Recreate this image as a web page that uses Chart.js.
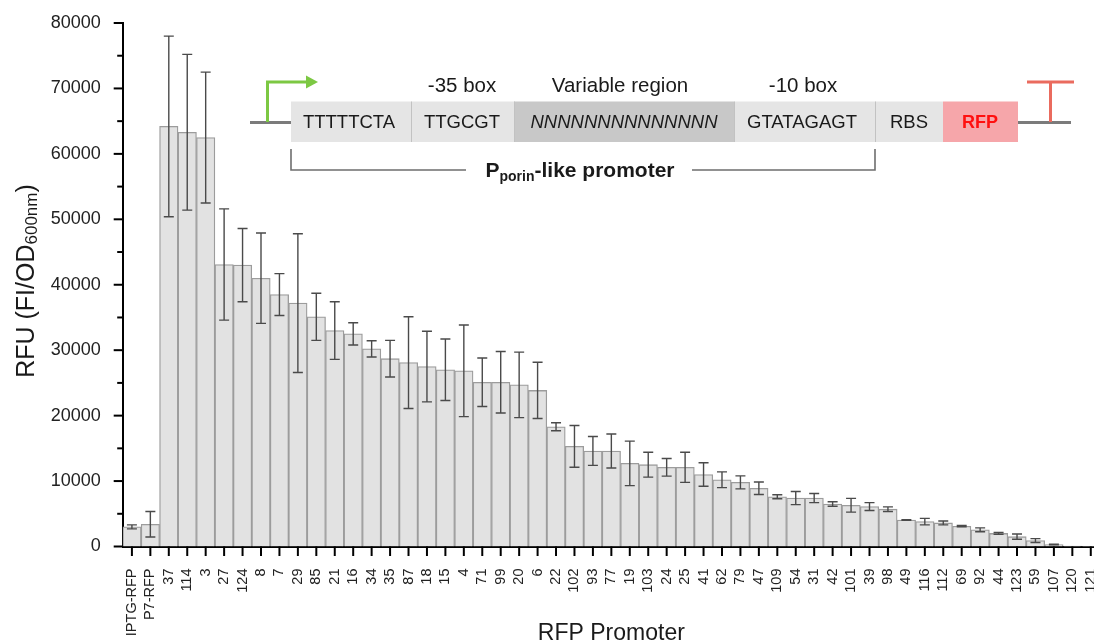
<!DOCTYPE html>
<html><head><meta charset="utf-8">
<script src="https://cdn.jsdelivr.net/npm/chart.js@4"></script>
<style>html,body{margin:0;padding:0;background:#fff;overflow:hidden;width:1094px;height:643px}canvas{display:block}</style>
</head><body>
<canvas id="c" width="1100" height="643"></canvas>
<script>
// ---- data ----
const categories = ['IPTG-RFP','P7-RFP','37','114','3','27','124','8','7','29','85','21','16','34','35','87','18','15','4','71','99','20','6','22','102','93','77','19','103','24','25','41','62','79','47','109','54','31','42','101','39','98','49','116','112','69','92','44','123','59','107','120','121'];
const rfuValues = [3000,3400,64200,63300,62500,43100,43000,41000,38500,37200,35100,33000,32500,30200,28700,28100,27500,27000,26850,25100,25100,24700,23850,18300,15300,14600,14600,12700,12500,12100,12100,11000,10200,9800,8900,7600,7400,7400,6500,6300,6100,5700,4050,3800,3600,3100,2550,2000,1500,900,300,80,20];
const rfuErrors = [300,1950,13800,11900,10000,8500,5600,6900,3200,10600,3600,4400,1700,1250,2800,7000,5400,4700,7000,3700,4700,5000,4300,600,3200,2200,2600,3400,1900,1350,2300,1800,1200,1000,950,300,1000,700,350,1050,600,350,50,500,300,100,300,150,400,300,50,0,0];
const yMin = 0, yMax = 80000, yMajorStep = 10000, yMinorStep = 5000;
const xTitle = 'RFP Promoter';
const yTitleMain = 'RFU (FI/OD', yTitleSub = '600nm', yTitleEnd = ')';

const FONT = '"Liberation Sans", Arial, sans-serif';

function line(ctx,x1,y1,x2,y2){ctx.beginPath();ctx.moveTo(x1,y1);ctx.lineTo(x2,y2);ctx.stroke();}

function drawInset(ctx){
  ctx.save();
  // backbone
  ctx.strokeStyle='#7b7b7b'; ctx.lineWidth=3;
  line(ctx,250,122.5,292,122.5); line(ctx,1017,122.5,1071,122.5);
  // boxes
  const top=101.5, h=40.5;
  const parts=[[291,411,'#e5e5e5'],[411,514,'#e5e5e5'],[514,734,'#c8c8c8'],[734,875,'#e5e5e5'],[875,943,'#e5e5e5'],[943,1018,'#f6a6aa']];
  parts.forEach(p=>{ctx.fillStyle=p[2];ctx.fillRect(p[0],top,p[1]-p[0],h);});
  ctx.strokeStyle='#c2c2c2'; ctx.lineWidth=1;
  [411,514,734,875].forEach(x=>line(ctx,x+0.5,top,x+0.5,top+h));
  // box text
  ctx.textBaseline='middle'; ctx.textAlign='center'; ctx.fillStyle='#1a1a1a';
  ctx.font='18.5px '+FONT;
  ctx.fillText('TTTTTCTA',349,123);
  ctx.fillText('TTGCGT',462,123);
  ctx.fillText('GTATAGAGT',802,123);
  ctx.fillText('RBS',909,123);
  ctx.font='italic 18.5px '+FONT;
  ctx.fillText('NNNNNNNNNNNNNN',624,123);
  ctx.font='bold 18px '+FONT; ctx.fillStyle='#ff1010';
  ctx.fillText('RFP',980,123);
  // labels above
  ctx.fillStyle='#1a1a1a'; ctx.font='20.5px '+FONT;
  ctx.fillText('-35 box',462,86);
  ctx.fillText('Variable region',620,86);
  ctx.fillText('-10 box',803,86);
  // promoter arrow
  ctx.strokeStyle='#7cc843'; ctx.lineWidth=3;
  ctx.beginPath(); ctx.moveTo(267.5,122); ctx.lineTo(267.5,82); ctx.lineTo(308,82); ctx.stroke();
  ctx.fillStyle='#7cc843';
  ctx.beginPath(); ctx.moveTo(306,75.5); ctx.lineTo(318,82); ctx.lineTo(306,88.5); ctx.closePath(); ctx.fill();
  // terminator
  ctx.strokeStyle='#ea6b5e'; ctx.lineWidth=3;
  line(ctx,1050.5,122,1050.5,82); line(ctx,1027,82,1074,82);
  // bracket
  ctx.strokeStyle='#6e6e6e'; ctx.lineWidth=1.6;
  ctx.beginPath(); ctx.moveTo(291,149); ctx.lineTo(291,170); ctx.lineTo(466,170); ctx.stroke();
  ctx.beginPath(); ctx.moveTo(692,170); ctx.lineTo(875,170); ctx.lineTo(875,149); ctx.stroke();
  // bracket text with subscript
  ctx.textAlign='left'; ctx.textBaseline='alphabetic'; ctx.fillStyle='#1a1a1a';
  const t1='P', t2='porin', t3='-like promoter';
  ctx.font='bold 21px '+FONT; const w1=ctx.measureText(t1).width, w3=ctx.measureText(t3).width;
  ctx.font='bold 14px '+FONT; const w2=ctx.measureText(t2).width;
  let x=580-(w1+w2+w3)/2, yb=177;
  ctx.font='bold 21px '+FONT; ctx.fillText(t1,x,yb); x+=w1;
  ctx.font='bold 14px '+FONT; ctx.fillText(t2,x,yb+4); x+=w2;
  ctx.font='bold 21px '+FONT; ctx.fillText(t3,x,yb);
  ctx.restore();
}

const overlay = {
  id:'overlay',
  afterDatasetsDraw(chart){
    const ctx=chart.ctx, xs=chart.scales.x, ys=chart.scales.y, meta=chart.getDatasetMeta(0);
    const area=chart.chartArea;
    ctx.save();
    // error bars
    ctx.strokeStyle='#4a4a4a'; ctx.lineWidth=1.4;
    meta.data.forEach((bar,i)=>{
      const e=rfuErrors[i]; if(!e) return;
      const v=rfuValues[i];
      const yt=ys.getPixelForValue(v+e), yb=ys.getPixelForValue(Math.max(v-e,0));
      const x=bar.x;
      ctx.beginPath();
      ctx.moveTo(x,yt); ctx.lineTo(x,yb);
      ctx.moveTo(x-5,yt); ctx.lineTo(x+5,yt);
      ctx.moveTo(x-5,yb); ctx.lineTo(x+5,yb);
      ctx.stroke();
    });
    // tick marks
    ctx.strokeStyle='#000'; ctx.lineWidth=2;
    for(let v=ys.min; v<=ys.max; v+=yMinorStep){
      const py=ys.getPixelForValue(v);
      const len=(v%yMajorStep===0)?9:5.5;
      line(ctx,area.left-len,py,area.left,py);
    }
    meta.data.forEach(bar=>{ line(ctx,bar.x,area.bottom,bar.x,area.bottom+9.5); });
    // axis titles
    ctx.fillStyle='#1a1a1a'; ctx.textBaseline='alphabetic'; ctx.textAlign='left';
    ctx.font='23px '+FONT;
    const xw=ctx.measureText(xTitle).width;
    ctx.fillText(xTitle,(area.left+area.right)/2-xw/2,640);
    // y title rotated
    ctx.save();
    ctx.translate(34,281); ctx.rotate(-Math.PI/2);
    ctx.font='25px '+FONT; const m1=ctx.measureText(yTitleMain).width, m3=ctx.measureText(yTitleEnd).width;
    ctx.font='17px '+FONT; const m2=ctx.measureText(yTitleSub).width;
    let x=-(m1+m2+m3)/2;
    ctx.font='25px '+FONT; ctx.fillText(yTitleMain,x,0); x+=m1;
    ctx.font='17px '+FONT; ctx.fillText(yTitleSub,x,3); x+=m2;
    ctx.font='25px '+FONT; ctx.fillText(yTitleEnd,x,0);
    ctx.restore();
    drawInset(ctx);
    ctx.restore();
  }
};

new Chart(document.getElementById('c'),{
  type:'bar',
  data:{labels:categories,datasets:[{data:rfuValues,backgroundColor:'#e2e2e2',borderColor:'#9c9c9c',borderWidth:1.3,categoryPercentage:1,barPercentage:1}]},
  options:{
    responsive:false, animation:false, devicePixelRatio:1,
    layout:{padding:{top:23,left:0,right:0,bottom:0}},
    plugins:{legend:{display:false},tooltip:{enabled:false},title:{display:false}},
    scales:{
      x:{
        grid:{display:false,drawTicks:false},
        border:{display:true,color:'#000',width:2},
        ticks:{autoSkip:false,maxRotation:90,minRotation:90,padding:22,color:'#222',font:{family:FONT,size:14.5}},
        afterFit(s){s.height=96.5; s.paddingLeft=0; s.paddingRight=0;}
      },
      y:{
        min:yMin,max:yMax,
        grid:{display:false,drawTicks:false},
        border:{display:true,color:'#000',width:2},
        ticks:{stepSize:yMajorStep,padding:22,color:'#222',font:{family:FONT,size:18},callback:v=>String(v)},
        afterFit(s){s.width=122.7; s.paddingTop=0; s.paddingBottom=0;}
      }
    }
  },
  plugins:[overlay]
});
</script>
</body></html>
